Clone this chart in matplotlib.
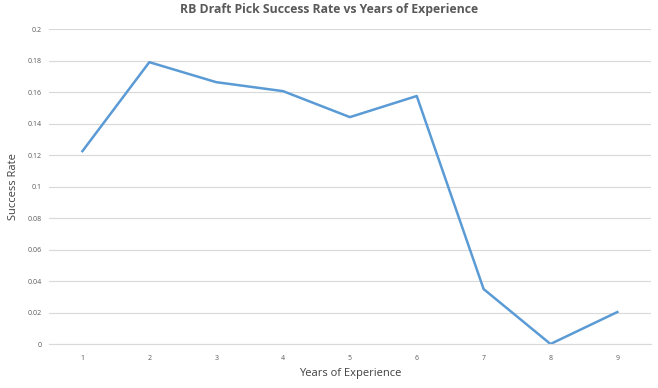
import matplotlib.pyplot as plt

years = [1, 2, 3, 4, 5, 6, 7, 8, 9]
success_rate = [0.1225, 0.179, 0.1663, 0.1606, 0.1441, 0.1575, 0.0349, 0.0, 0.0203]
y_ticks = [0, 0.02, 0.04, 0.06, 0.08, 0.1, 0.12, 0.14, 0.16, 0.18, 0.2]
y_labels = ["0", "0.02", "0.04", "0.06", "0.08", "0.1", "0.12", "0.14", "0.16", "0.18", "0.2"]

plt.rcParams['font.family'] = ['Open Sans', 'DejaVu Sans']

fig = plt.figure(figsize=(6.58, 3.88), dpi=100)
ax = fig.add_axes([0.0745, 0.1134, 0.9145, 0.8116])

ax.plot(years, success_rate, color='#5b9bd5', linewidth=1.8)

ax.set_xlim(0.5, 9.5)
ax.set_ylim(0, 0.2)
ax.set_xticks(years)
ax.set_xticklabels([str(y) for y in years])
ax.set_yticks(y_ticks)
ax.set_yticklabels(y_labels)
ax.tick_params(axis='x', length=0, labelsize=5, colors='#595959', pad=8)
ax.tick_params(axis='y', length=0, labelsize=5, colors='#595959', pad=5)
ax.grid(axis='y', color='#d9d9d9', linewidth=0.8)
ax.set_axisbelow(True)
for s in ['top', 'right', 'left']:
    ax.spines[s].set_visible(False)
ax.spines['bottom'].set_color('#d9d9d9')
ax.spines['bottom'].set_linewidth(0.8)

ax.set_xlabel('Years of Experience', fontsize=8, color='#404040', labelpad=4)
ax.set_ylabel('Success Rate', fontsize=8, color='#404040')
ax.yaxis.set_label_coords(-0.05, 0.5)
fig.suptitle('RB Draft Pick Success Rate vs Years of Experience', fontsize=8.8,
             fontweight='bold', color='#595959', y=0.992)

plt.savefig("out.png", dpi=100)
